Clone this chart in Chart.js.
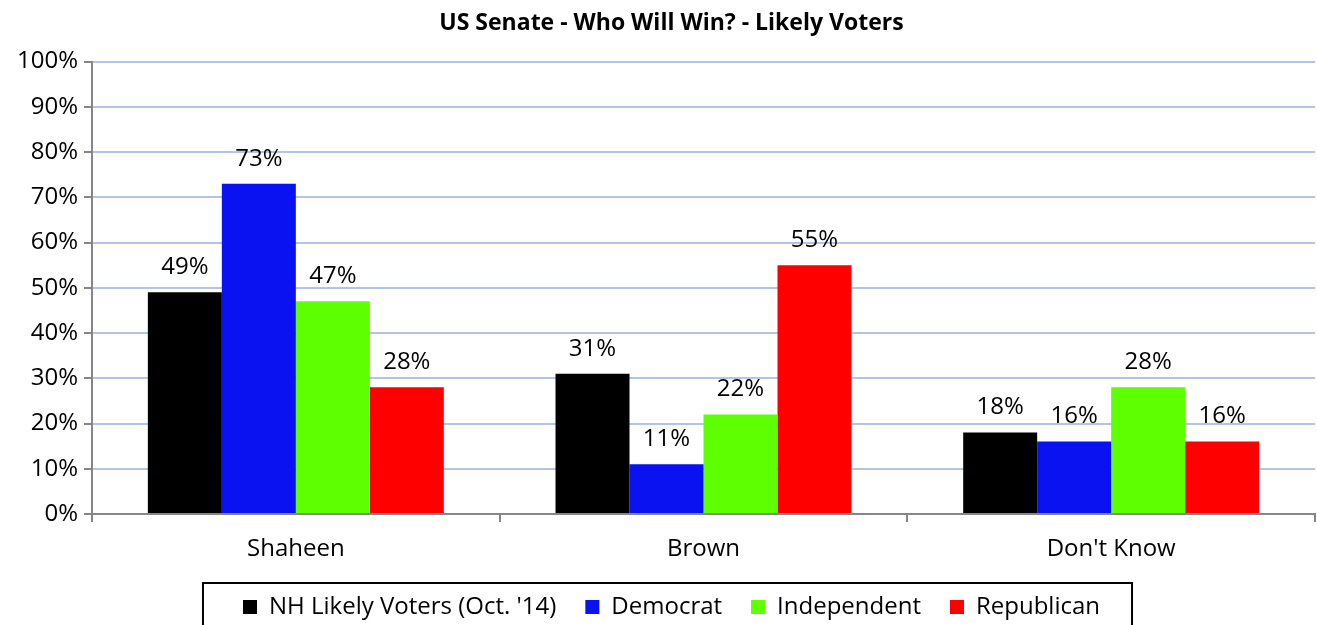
<!DOCTYPE html>
<html>
<head>
<meta charset="utf-8">
<script src="https://cdn.jsdelivr.net/npm/chart.js@4/dist/chart.umd.min.js"></script>
<style>
html,body{margin:0;padding:0;background:#fff;}
#wrap{width:1317px;height:625px;position:relative;}
</style>
</head>
<body>
<div id="wrap"><canvas id="c"></canvas></div>
<script>
const categories = ["Shaheen", "Brown", "Don't Know"];
const seriesNames = ["NH Likely Voters (Oct. '14)", "Democrat", "Independent", "Republican"];
const nhLikely = [49, 31, 18];
const democrat = [73, 11, 16];
const independent = [47, 22, 28];
const republican = [28, 55, 16];
const colors = ["#000000", "#0A12F2", "#5EFF00", "#FF0000"];
const titleText = "US Senate - Who Will Win? - Likely Voters";

const FONT = "'Open Sans', sans-serif";
const FS = 24;
const PLOT_BOTTOM = 514;
const PAD_BOTTOM = -4;

const valueLabels = {
  id: 'valueLabels',
  afterDatasetsDraw(chart) {
    const ctx = chart.ctx;
    ctx.save();
    ctx.font = FS + "px " + FONT;
    ctx.fillStyle = "#000";
    ctx.textAlign = "center";
    ctx.textBaseline = "middle";
    chart.data.datasets.forEach((ds, i) => {
      const meta = chart.getDatasetMeta(i);
      meta.data.forEach((bar, j) => {
        ctx.fillText(ds.data[j] + "%", bar.x, bar.y - 25);
      });
    });
    ctx.restore();
  }
};

const noLabelClip = {
  id: 'noLabelClip',
  beforeDraw(chart) {
    ['x', 'y'].forEach(k => {
      const s = chart.scales[k];
      if (s) s._computeLabelArea = () => undefined;
    });
  }
};

const legendBox = {
  id: 'legendBox',
  afterDraw(chart) {
    const lg = chart.legend;
    if (!lg || !lg.legendHitBoxes || !lg.legendHitBoxes.length) return;
    const hb = lg.legendHitBoxes;
    let minX = Infinity, maxX = -Infinity;
    hb.forEach(b => { minX = Math.min(minX, b.left); maxX = Math.max(maxX, b.left + b.width); });
    const ctx = chart.ctx;
    ctx.save();
    ctx.strokeStyle = "#000";
    ctx.lineWidth = 2;
    ctx.strokeRect(minX - 40, 583, (maxX - minX) + 72, 80);
    ctx.restore();
  }
};

new Chart(document.getElementById('c'), {
  type: 'bar',
  data: {
    labels: categories,
    datasets: [
      { label: seriesNames[0], data: nhLikely, backgroundColor: colors[0] },
      { label: seriesNames[1], data: democrat, backgroundColor: colors[1] },
      { label: seriesNames[2], data: independent, backgroundColor: colors[2] },
      { label: seriesNames[3], data: republican, backgroundColor: colors[3] }
    ]
  },
  options: {
    responsive: true,
    maintainAspectRatio: false,
    animation: false,
    devicePixelRatio: 1,
    layout: { padding: { left: 28, right: 2, top: 0, bottom: PAD_BOTTOM } },
    datasets: { bar: { barPercentage: 1.0, categoryPercentage: 0.726 } },
    plugins: {
      title: {
        display: true,
        text: titleText,
        color: "#000",
        font: { family: FONT, size: 23, weight: 'bold' },
        padding: { top: 10, bottom: 24 }
      },
      legend: {
        position: 'bottom',
        labels: {
          color: "#000",
          font: { family: FONT, size: FS },
          boxWidth: 14,
          boxHeight: 14,
          padding: 29
        }
      },
      tooltip: { enabled: false }
    },
    scales: {
      x: {
        grid: { display: true, drawOnChartArea: false, offset: true, color: "#868686", tickLength: 8, lineWidth: 2 },
        border: { color: "#868686", width: 2 },
        ticks: { color: "#000", font: { family: FONT, size: FS }, padding: 13 },
        afterFit(scale) { scale.height = (scale.chart.height - PAD_BOTTOM) - PLOT_BOTTOM - scale.chart.legend.height; }
      },
      y: {
        min: 0, max: 100,
        ticks: { stepSize: 10, color: "#000", font: { family: FONT, size: FS }, padding: 6, callback: v => v + "%" },
        grid: { color: "#B3C5E6", lineWidth: 2, tickColor: "#868686", tickLength: 8 },
        border: { color: "#868686", width: 2 },
        afterFit(scale) { scale.width = 64; }
      }
    }
  },
  plugins: [valueLabels, legendBox, noLabelClip]
});
</script>
</body>
</html>
